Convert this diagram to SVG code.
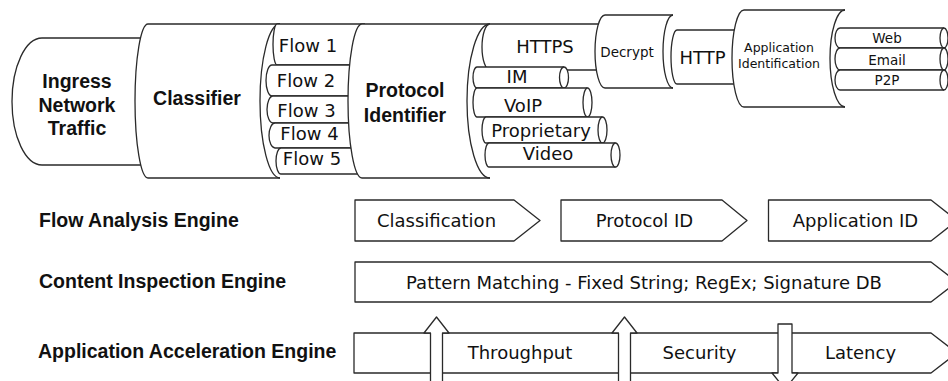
<svg xmlns="http://www.w3.org/2000/svg" width="948" height="381" viewBox="0 0 948 381">
<style>
.s{fill:#fff;stroke:#2a2a2a;stroke-width:1.3;stroke-linejoin:round}
.f{fill:none;stroke:#2a2a2a;stroke-width:1.3}
.b{font-family:"Liberation Sans",Arial,sans-serif;font-weight:bold;font-size:19.5px;fill:#111}
.r{font-family:"DejaVu Sans",sans-serif;font-size:18px;fill:#111}
.m{text-anchor:middle}
.sm{font-size:13.5px}
.xs{font-size:12.5px}
</style>
<rect width="948" height="381" fill="#fff"/>
<g id="ingress">
<path class="s" d="M160,38 L42,38 A30 63.5 0 0 0 42,165 L160,165"/>
<text class="b m" x="77" y="88">Ingress</text>
<text class="b m" x="77" y="111.5">Network</text>
<text class="b m" x="77" y="135">Traffic</text>
</g>
<g id="classifier">
<path class="s" d="M280,24 L148,24 A13 77 0 0 0 148,178 L280,178"/>
<path class="f" d="M280,24 A20 77 0 0 0 280,178"/>
<text class="b m" x="197" y="105">Classifier</text>
</g>
<g id="flows">
<g id="flow1"><path class="s" d="M365,24 L277,24 A4 20.5 0 0 0 277,65 L365,65"/><text class="r m" x="308" y="52">Flow 1</text></g>
<g id="flow2"><path class="s" d="M365,65 L272,65 A6 15.5 0 0 0 272,96 L365,96"/><text class="r m" x="306" y="87">Flow 2</text></g>
<g id="flow3"><path class="s" d="M365,96 L273,96 A6 13.5 0 0 0 273,123 L365,123"/><text class="r m" x="306.5" y="117">Flow 3</text></g>
<g id="flow4"><path class="s" d="M365,123 L275,123 A6 12.5 0 0 0 275,148 L365,148"/><text class="r m" x="309.5" y="140">Flow 4</text></g>
<g id="flow5"><path class="s" d="M365,148 L281,148 A5 13 0 0 0 281,174 L365,174"/><text class="r m" x="312" y="165">Flow 5</text></g>
</g>
<g id="protocol-identifier">
<path class="s" d="M490,24 L362,24 A14 77 0 0 0 362,178 L490,178"/>
<path class="f" d="M490,24 A23 77 0 0 0 490,178"/>
<text class="b m" x="405" y="97">Protocol</text>
<text class="b m" x="405" y="122">Identifier</text>
</g>
<g id="https">
<path class="s" d="M610,24 L490,24 A8 23 0 0 0 490,70 L610,70"/>
<text class="r m" x="545" y="53">HTTPS</text>
</g>
<g id="decrypt">
<path class="s" d="M673,15 L605,15 A10 36.5 0 0 0 605,88 L673,88"/>
<path class="f" d="M673,15 A10 36.5 0 0 0 673,88"/>
<text class="r m sm" x="627" y="57">Decrypt</text>
</g>
<g id="http">
<path class="s" d="M750,30 L677,30 A6 27 0 0 0 677,84 L750,84"/>
<text class="r m" x="702.5" y="64">HTTP</text>
</g>
<g id="application-identification">
<path class="s" d="M845,10 L744,10 A12 48.5 0 0 0 744,107 L845,107"/>
<path class="f" d="M845,10 A15 48.5 0 0 0 845,107"/>
<text class="r m xs" x="779" y="52">Application</text>
<text class="r m xs" x="779" y="68">Identification</text>
</g>
<g id="web">
<path class="s" d="M944,28 L840,28 A5 10 0 0 0 840,48 L944,48"/><ellipse class="s" cx="944" cy="38" rx="4" ry="10"/>
<text class="r m sm" x="887" y="43">Web</text>
</g>
<g id="email">
<path class="s" d="M944,48 L840,48 A5 11 0 0 0 840,70 L944,70"/><ellipse class="s" cx="944" cy="59" rx="4" ry="11"/>
<text class="r m sm" x="887" y="65">Email</text>
</g>
<g id="p2p">
<path class="s" d="M944,70 L840,70 A5 10 0 0 0 840,90 L944,90"/><ellipse class="s" cx="944" cy="80" rx="4" ry="10"/>
<text class="r m sm" x="887" y="85">P2P</text>
</g>
<g id="im">
<path class="s" d="M564,67 L477,67 A4 10.5 0 0 0 477,88 L564,88"/><ellipse class="s" cx="564" cy="77.5" rx="4.5" ry="10.5"/>
<text class="r m" x="517" y="83">IM</text>
</g>
<g id="voip">
<path class="s" d="M587.5,88 L477,88 A4 14.5 0 0 0 477,117 L587.5,117"/><ellipse class="s" cx="587.5" cy="102.5" rx="4.5" ry="14.5"/>
<text class="r m" x="523" y="112">VoIP</text>
</g>
<g id="proprietary">
<path class="s" d="M602.5,117 L486,117 A4 13 0 0 0 486,143 L602.5,143"/><ellipse class="s" cx="602.5" cy="130" rx="4.5" ry="13"/>
<text class="r m" x="541" y="137">Proprietary</text>
</g>
<g id="video">
<path class="s" d="M615.5,143 L489,143 A4 12 0 0 0 489,167 L615.5,167"/><ellipse class="s" cx="615.5" cy="155" rx="4.5" ry="12"/>
<text class="r m" x="548" y="160">Video</text>
</g>
<g id="flow-analysis-engine">
<text class="b" x="39" y="227">Flow Analysis Engine</text>
<g id="classification"><path class="s" d="M355,200 L514,200 L540,220.5 L514,241 L355,241 Z"/><text class="r m" x="436.5" y="227">Classification</text></g>
<g id="protocol-id"><path class="s" d="M561,200 L722,200 L747,220.5 L722,241 L561,241 Z"/><text class="r m" x="644.5" y="227">Protocol ID</text></g>
<g id="application-id"><path class="s" d="M768.5,200 L931,200 L957,220.5 L931,241 L768.5,241 Z"/><text class="r m" x="855.5" y="227">Application ID</text></g>
</g>
<g id="content-inspection-engine">
<text class="b" x="39" y="288">Content Inspection Engine</text>
<path class="s" d="M355,262 L931,262 L957,282 L931,302 L355,302 Z"/>
<text class="r m" x="644" y="288.5">Pattern Matching - Fixed String; RegEx; Signature DB</text>
</g>
<g id="application-acceleration-engine">
<text class="b" x="38" y="358">Application Acceleration Engine</text>
<path class="s" d="M354,333 L931,333 L957,353 L931,373 L354,373 Z"/>
<text class="r m" x="520" y="359">Throughput</text>
<text class="r m" x="699.5" y="359">Security</text>
<text class="r m" x="860.5" y="359">Latency</text>
</g>
<g id="connectors">
<path class="s" d="M430.5,395 L430.5,333 L424,333 L436.5,317 L449,333 L442.5,333 L442.5,395"/>
<path class="s" d="M618.5,395 L618.5,333 L612,333 L624.5,317 L637,333 L630.5,333 L630.5,395"/>
<path class="s" d="M778,324 L792,324 L792,373 L798,373 L785,389 L772,373 L778,373 Z"/>
</g>
</svg>
